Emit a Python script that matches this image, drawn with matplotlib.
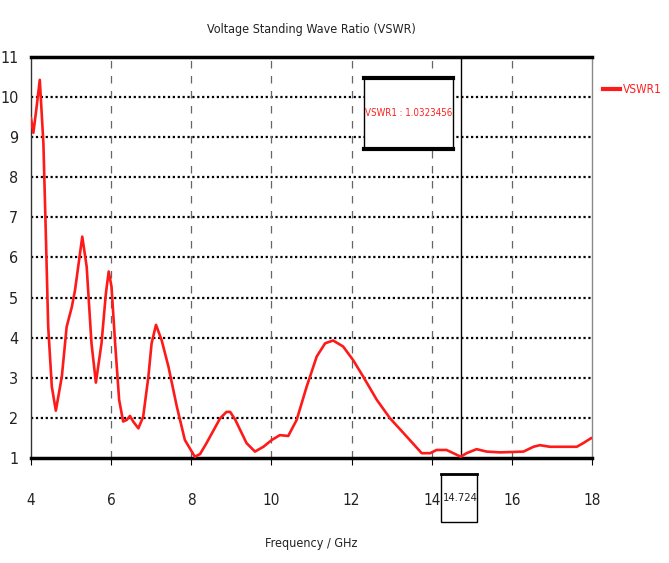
import matplotlib
matplotlib.use('Agg')
import matplotlib.pyplot as plt
from matplotlib.lines import Line2D

plt.rcParams['font.family'] = ['DejaVu Sans']
plt.rcParams['font.stretch'] = 'condensed'

# VSWR curve
freq = [4.00, 4.06, 4.14, 4.22, 4.31, 4.37, 4.43, 4.52, 4.62, 4.77, 4.89, 5.02,
        5.10, 5.28, 5.39, 5.51, 5.62, 5.76, 5.87, 5.94, 6.01, 6.10, 6.20, 6.30,
        6.39, 6.47, 6.55, 6.68, 6.80, 6.93, 7.01, 7.12, 7.26, 7.43, 7.64, 7.84,
        8.09, 8.22, 8.38, 8.55, 8.72, 8.88, 8.97, 9.10, 9.22, 9.38, 9.59, 9.80,
        10.01, 10.21, 10.42, 10.63, 10.88, 11.13, 11.34, 11.54, 11.79, 12.04,
        12.29, 12.63, 12.96, 13.38, 13.75, 13.96, 14.12, 14.37, 14.54, 14.724,
        14.87, 15.12, 15.37, 15.71, 16.29, 16.54, 16.70, 16.95, 17.62, 17.78,
        17.97, 18.00]
vswr = [9.47, 9.11, 9.75, 10.43, 8.85, 6.61, 4.27, 2.78, 2.18, 3.03, 4.27, 4.77,
        5.19, 6.52, 5.77, 3.86, 2.88, 3.86, 5.11, 5.65, 5.27, 3.86, 2.45, 1.91,
        1.95, 2.05, 1.91, 1.74, 2.03, 3.03, 3.86, 4.32, 3.94, 3.28, 2.28, 1.45,
        1.03, 1.10, 1.37, 1.68, 1.99, 2.15, 2.15, 1.95, 1.70, 1.37, 1.16, 1.28,
        1.45, 1.57, 1.55, 1.95, 2.78, 3.53, 3.86, 3.93, 3.78, 3.44,
        3.03, 2.45, 1.99, 1.53, 1.12, 1.12, 1.20, 1.20, 1.12, 1.032,
        1.12, 1.22, 1.16, 1.14, 1.16, 1.28, 1.32, 1.28, 1.28, 1.37,
        1.49, 1.50]

marker_x = 14.724
marker_text = 'VSWR1 : 1.0323456'
xticks = [4, 6, 8, 10, 12, 14, 16, 18]
yticks = list(range(1, 12))

fig = plt.figure(figsize=(6.69, 5.63), dpi=100)
ax = fig.add_axes([0.0463, 0.1865, 0.8386, 0.7123])

ax.plot(freq, vswr, color='#ff1a1a', lw=1.9, label='VSWR1', zorder=3)

ax.set_xlim(4, 18)
ax.set_ylim(1, 11)

# grid: dotted horizontals, dashed gray verticals
for y in yticks[1:-1]:
    ax.axhline(y, color='black', lw=1.6, ls=(0, (1, 1.2)), zorder=1)
for x in xticks[1:-1]:
    ax.axvline(x, color='#666666', lw=0.9, ls=(0, (6, 6)), zorder=1)

# marker line
ax.axvline(marker_x, color='black', lw=1.0, zorder=2)

# spines
ax.spines['top'].set_linewidth(2.5)
ax.spines['bottom'].set_linewidth(2.5)
ax.spines['left'].set_linewidth(1.0)
ax.spines['left'].set_color('#333333')
ax.spines['right'].set_linewidth(1.0)
ax.spines['right'].set_color('#888888')

ax.set_xticks(xticks + [marker_x])
ax.set_xticklabels([str(t) for t in xticks] + ['14.724'])
ax.set_yticks(yticks)
ax.tick_params(axis='x', length=5, width=0.8, pad=20, labelsize=11,
               labelcolor='#222222', direction='out')
ax.tick_params(axis='y', length=0, pad=9, labelsize=11.5, labelcolor='#222222')
ax.get_xticklabels()[-1].set_fontsize(8)
ax.xaxis.get_major_ticks()[-1].tick1line.set_visible(False)

# frame around the marker frequency label
mb_l, mb_r, mb_t, mb_b = 0.731, 0.795, -0.040, -0.160
ax.add_patch(plt.Rectangle((mb_l, mb_b), mb_r - mb_l, mb_t - mb_b,
                           transform=ax.transAxes, facecolor='none',
                           edgecolor='black', lw=1.0, clip_on=False))
ax.add_line(Line2D([mb_l, mb_r], [mb_t, mb_t], transform=ax.transAxes,
                   color='black', lw=2, clip_on=False))

ax.set_title('Voltage Standing Wave Ratio (VSWR)', fontsize=9, pad=17,
             color='#222222')
ax.set_xlabel('Frequency / GHz', fontsize=9, labelpad=21, color='#222222')

# marker readout box
box_l, box_r, box_b, box_t = 0.594, 0.752, 0.771, 0.948
ax.add_patch(plt.Rectangle((box_l, box_b), box_r - box_l, box_t - box_b,
                           transform=ax.transAxes, facecolor='white',
                           edgecolor='black', lw=1.0, zorder=5))
for yy in (box_b, box_t):
    ax.add_line(Line2D([box_l, box_r], [yy, yy], transform=ax.transAxes,
                       color='black', lw=3, zorder=6))
ax.text((box_l + box_r) / 2, (box_b + box_t) / 2, marker_text,
        transform=ax.transAxes, ha='center', va='center', fontsize=7,
        color='#ff2020', zorder=7)

leg = fig.legend(loc='upper left', bbox_to_anchor=(0.885, 0.872), frameon=False,
                 handlelength=1.5, handletextpad=0.25, fontsize=8.5)
for t in leg.get_texts():
    t.set_color('#ff2020')
for h in leg.legend_handles:
    h.set_linewidth(3)

fig.savefig('out.png', dpi=100)
